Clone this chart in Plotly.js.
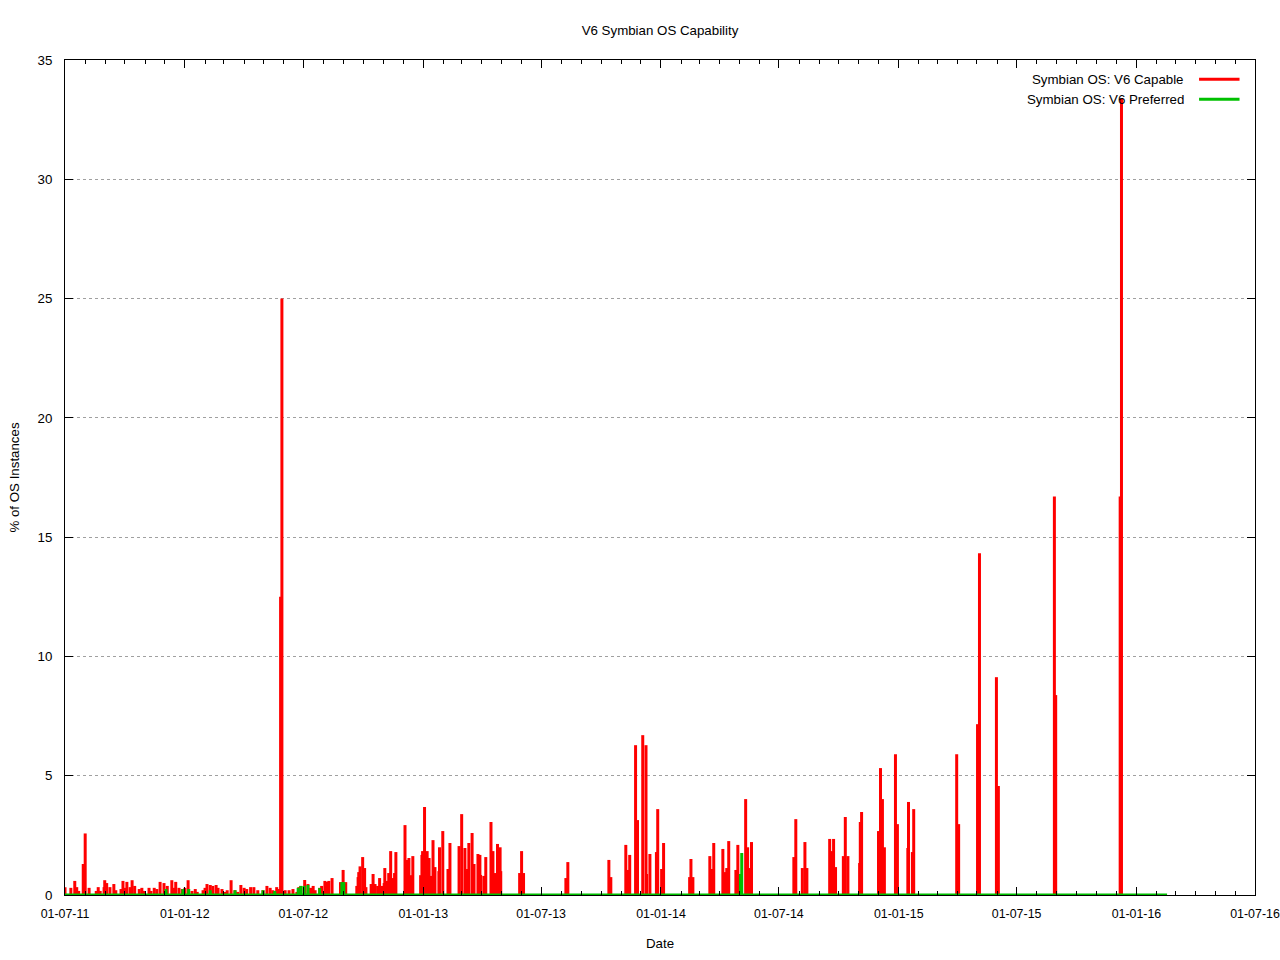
<!DOCTYPE html>
<html>
<head>
<meta charset="utf-8">
<script src="https://cdn.plot.ly/plotly-3.0.1.min.js"></script>
<style>html,body{margin:0;padding:0;background:#fff;}#chart{width:1280px;height:960px;}</style>
</head>
<body>
<div id="chart"></div>
<script>
// Symbian OS: V6 Capable (% of OS instances), impulse series
const capableDates = [
'2011-07-01','2011-07-10','2011-07-16','2011-07-19','2011-07-22','2011-07-29','2011-08-01','2011-08-07','2011-08-18','2011-08-21',
'2011-08-24','2011-08-30','2011-08-31','2011-09-03','2011-09-08','2011-09-14','2011-09-17','2011-09-25','2011-09-28','2011-10-01',
'2011-10-04','2011-10-09','2011-10-12','2011-10-16','2011-10-23','2011-10-27','2011-10-30','2011-11-07','2011-11-10','2011-11-15',
'2011-11-19','2011-11-24','2011-11-30','2011-12-05','2011-12-12','2011-12-15','2011-12-18','2011-12-23','2011-12-28','2012-01-01',
'2012-01-06','2012-01-12','2012-01-17','2012-01-20','2012-01-29','2012-02-01','2012-02-04','2012-02-09','2012-02-13','2012-02-18',
'2012-02-21','2012-02-27','2012-03-03','2012-03-06','2012-03-12','2012-03-18','2012-03-22','2012-03-27','2012-04-01','2012-04-05',
'2012-04-11','2012-04-16','2012-04-22','2012-04-30','2012-05-06','2012-05-11','2012-05-15','2012-05-21','2012-05-24','2012-05-27',
'2012-05-29','2012-06-03','2012-06-09','2012-06-15','2012-06-21','2012-06-24','2012-06-27','2012-07-03','2012-07-08','2012-07-12',
'2012-07-16','2012-07-19','2012-07-26','2012-07-29','2012-08-03','2012-08-06','2012-08-09','2012-08-14','2012-08-27','2012-08-31',
'2012-09-04','2012-09-21','2012-09-23','2012-09-24','2012-09-26','2012-09-30','2012-10-03','2012-10-05','2012-10-13','2012-10-16',
'2012-10-19','2012-10-23','2012-10-26','2012-10-29','2012-11-02','2012-11-03','2012-11-06','2012-11-09','2012-11-12','2012-11-15',
'2012-11-18','2012-11-20','2012-12-04','2012-12-07','2012-12-10','2012-12-13','2012-12-16','2012-12-28','2012-12-30','2012-12-31',
'2013-01-03','2013-01-07','2013-01-10','2013-01-13','2013-01-16','2013-01-19','2013-01-25','2013-01-26','2013-01-31','2013-02-08',
'2013-02-11','2013-02-25','2013-03-01','2013-03-06','2013-03-07','2013-03-10','2013-03-12','2013-03-17','2013-03-20','2013-03-26',
'2013-03-29','2013-03-30','2013-04-04','2013-04-07','2013-04-15','2013-04-18','2013-04-21','2013-04-25','2013-04-29','2013-04-30',
'2013-05-29','2013-06-01','2013-06-04','2013-08-08','2013-08-11','2013-10-13','2013-10-16','2013-11-08','2013-11-11','2013-11-14',
'2013-11-23','2013-11-26','2013-12-04','2013-12-09','2013-12-10','2013-12-15','2013-12-25','2013-12-27','2014-01-02','2014-01-05',
'2014-02-14','2014-02-16','2014-02-19','2014-03-17','2014-03-21','2014-03-23','2014-04-06','2014-04-09','2014-04-12','2014-04-15',
'2014-04-26','2014-04-29','2014-05-03','2014-05-11','2014-05-14','2014-05-17','2014-05-20','2014-07-24','2014-07-27','2014-08-06',
'2014-08-10','2014-08-13','2014-09-17','2014-09-20','2014-09-23','2014-09-26','2014-10-08','2014-10-11','2014-10-15','2014-11-02',
'2014-11-03','2014-11-05','2014-12-01','2014-12-04','2014-12-07','2014-12-10','2014-12-27','2014-12-30','2015-01-15','2015-01-16',
'2015-01-22','2015-01-24','2015-03-31','2015-04-03','2015-05-02','2015-05-05','2015-05-31','2015-06-03','2015-08-28','2015-08-30',
'2015-12-07','2015-12-09'
];
const capableValues = [
0.33,0.30,0.59,0.33,0.17,1.30,2.58,0.30,0.17,0.33,
0.17,0.33,0.62,0.50,0.33,0.46,0.20,0.25,0.59,0.30,
0.55,0.33,0.62,0.38,0.25,0.30,0.17,0.30,0.17,0.30,
0.25,0.55,0.50,0.38,0.62,0.30,0.55,0.30,0.25,0.30,
0.62,0.17,0.25,0.13,0.20,0.30,0.46,0.42,0.38,0.42,
0.30,0.25,0.13,0.20,0.62,0.20,0.13,0.42,0.30,0.25,
0.33,0.33,0.20,0.20,0.38,0.30,0.20,0.33,0.25,12.5,
25.0,0.20,0.20,0.25,0.13,0.33,0.38,0.63,0.46,0.30,
0.38,0.20,0.30,0.38,0.59,0.55,0.59,0.71,0.54,1.05,
0.54,0.38,0.75,0.96,1.20,1.59,1.13,0.33,0.46,0.88,
0.46,0.38,0.71,0.38,0.50,1.13,0.59,0.92,1.84,0.71,
0.92,1.80,2.93,1.47,1.55,0.83,1.63,0.83,1.68,1.84,
3.69,1.84,1.55,0.80,2.30,1.17,1.00,2.00,2.68,1.09,
2.18,2.05,3.39,1.97,1.00,1.09,2.18,2.60,1.30,1.72,
1.68,0.84,0.80,1.59,3.06,1.84,0.92,2.14,2.00,1.00,
0.92,1.84,0.92,0.71,1.38,1.47,0.75,2.10,1.05,1.68,
6.28,3.14,6.70,6.28,0.88,1.72,1.80,3.60,1.09,2.18,
0.75,1.51,0.75,1.63,1.09,2.18,1.93,0.96,1.13,2.26,
1.05,2.10,0.88,4.02,2.00,1.13,2.22,1.59,3.18,1.13,
2.22,1.13,2.35,1.84,2.35,1.17,1.63,3.27,1.63,1.34,
3.06,3.48,2.68,5.32,4.02,2.00,5.90,2.97,1.97,3.90,
1.80,3.60,5.90,2.97,7.16,14.33,9.13,4.57,16.7,8.38,
16.7,33.4
];
// Symbian OS: V6 Preferred
const preferredDates = [
'2011-12-03','2011-12-29','2012-01-07','2012-02-09','2012-03-18','2012-04-30','2012-05-18','2012-06-23','2012-06-27','2012-07-02',
'2012-07-08','2012-07-26','2012-08-29','2012-09-01','2014-05-03','2014-05-05'
];
const preferredValues = [
0.25,0.25,0.25,0.20,0.20,0.20,0.17,0.30,0.38,0.38,
0.42,0.29,0.54,0.54,0.88,1.76
];
// span of the zero-valued samples along the baseline
const seriesSpan = ['2011-07-01','2016-02-17'];

const seriesNames = ['Symbian OS: V6 Capable','Symbian OS: V6 Preferred'];
const seriesColors = ['#ff0000','#00c000'];

function impulses(dates, vals){
  const x=[], y=[];
  for(let i=0;i<dates.length;i++){ x.push(dates[i],dates[i],null); y.push(0,vals[i],null); }
  return {x,y};
}
const imp1 = impulses(capableDates, capableValues);
const imp2 = impulses(preferredDates, preferredValues);

const traces = [
  {x: imp1.x, y: imp1.y, type:'scatter', mode:'lines', line:{color:seriesColors[0], width:3}, name:seriesNames[0], showlegend:false, hoverinfo:'skip'},
  {x: seriesSpan, y:[0,0], type:'scatter', mode:'lines', line:{color:seriesColors[1], width:3}, showlegend:false, hoverinfo:'skip'},
  {x: imp2.x, y: imp2.y, type:'scatter', mode:'lines', line:{color:seriesColors[1], width:3}, name:seriesNames[1], showlegend:false, hoverinfo:'skip'}
];

const FS = 13.3;
const legendY = [0.977, 0.953];
const annotations = seriesNames.map((n,i)=>({xref:'paper',yref:'paper',x:0.942,y:legendY[i],xanchor:'right',yanchor:'middle',text:n,showarrow:false,font:{size:FS,color:'#000'}}));
const shapes = seriesNames.map((n,i)=>({type:'line',xref:'paper',yref:'paper',x0:0.953,x1:0.987,y0:legendY[i],y1:legendY[i],line:{color:seriesColors[i],width:3}}));

const layout = {
  width:1280, height:960,
  margin:{l:65, r:25, t:60, b:65},
  paper_bgcolor:'#fff', plot_bgcolor:'#fff',
  font:{family:'Liberation Sans, Arial, sans-serif', size:FS, color:'#000'},
  title:{text:'V6 Symbian OS Capability', x:0.5, xref:'paper', xanchor:'center', y:1-30/960, yref:'container', yanchor:'middle', font:{size:FS}},
  showlegend:false,
  xaxis:{
    type:'date', range:['2011-07-01','2016-07-01'], tick0:'2011-07-01', dtick:'M6', tickformat:'%d-%m-%y',
    tickfont:{size:12.4},
    ticks:'inside', ticklen:8, tickcolor:'#000', showline:true, linecolor:'#000', linewidth:1, mirror:'ticks',
    showgrid:false, zeroline:false, ticklabelstandoff:7, ticklabeloverflow:'allow',
    minor:{ticks:'inside', ticklen:4, dtick:'M1', tick0:'2011-07-01', tickcolor:'#000', showgrid:false},
    title:{text:'Date', standoff:18, font:{size:FS}}, automargin:false
  },
  yaxis:{
    range:[0,35], dtick:5, tick0:0, ticks:'inside', ticklen:8, tickcolor:'#000',
    showline:true, linecolor:'#000', linewidth:1, mirror:'ticks', ticklabelstandoff:9,
    showgrid:true, gridcolor:'#a0a0a0', griddash:'dot', gridwidth:1, zeroline:false,
    title:{text:'% of OS Instances', standoff:14, font:{size:FS}}, automargin:false
  },
  annotations: annotations,
  shapes: shapes
};
Plotly.newPlot('chart', traces, layout, {staticPlot:true, displayModeBar:false});
</script>
</body>
</html>
